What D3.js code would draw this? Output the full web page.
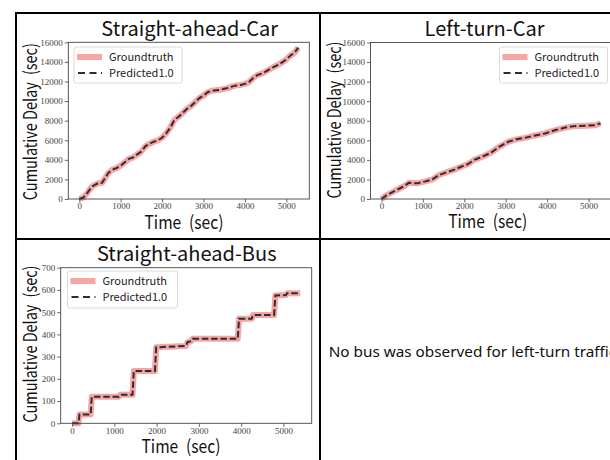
<!DOCTYPE html>
<html>
<head>
<meta charset="utf-8">
<script src="https://cdn.jsdelivr.net/npm/d3@7"></script>
<style>
  html, body { margin: 0; padding: 0; background: #fff; }
  svg { display: block; }
</style>
</head>
<body>
<svg id="fig" width="610" height="460"></svg>
<script>
// ---- data ----
const timeTicks = [0, 1000, 2000, 3000, 4000, 5000];
const carDelayTicks = [0, 2000, 4000, 6000, 8000, 10000, 12000, 14000, 16000];
const busDelayTicks = [0, 100, 200, 300, 400, 500, 600, 700];

const seriesNames = ["Groundtruth", "Predicted1.0"];
const panelTitles = ["Straight-ahead-Car", "Left-turn-Car", "Straight-ahead-Bus"];
const noBusNote = "No bus was observed for left-turn traffic";
const xAxisLabel = "Time\u2002(sec)";
const yAxisLabel = "Cumulative Delay\u2002(sec)";

// Straight-ahead cars: cumulative delay (sec) against time (sec)
const straightCarTime = [0, 100, 200, 300, 380, 450, 550, 620, 700, 800, 900, 1000, 1100, 1200, 1300, 1400, 1500,
  1600, 1700, 1800, 1900, 2000, 2100, 2200, 2300, 2400, 2500, 2600, 2700, 2800, 2900, 3000, 3100, 3200, 3300,
  3400, 3500, 3600, 3700, 3800, 3900, 4000, 4100, 4200, 4300, 4400, 4500, 4600, 4700, 4800, 4900, 5000, 5100,
  5200, 5290];
const straightCarDelay = [0, 150, 650, 1250, 1450, 1600, 1650, 2100, 2650, 3000, 3150, 3400, 3750, 4100, 4250,
  4550, 4850, 5400, 5650, 5850, 6000, 6250, 6700, 7300, 8100, 8400, 8800, 9200, 9500, 9900, 10300, 10550, 10900,
  11050, 11100, 11150, 11250, 11350, 11500, 11600, 11650, 11750, 11950, 12350, 12650, 12800, 13000, 13250, 13500,
  13700, 13950, 14250, 14650, 14950, 15450];

// Left-turn cars
const leftCarTime = [0, 130, 290, 450, 560, 660, 860, 1060, 1230, 1390, 1550, 1760, 1920, 2080, 2240, 2450, 2650,
  2850, 3060, 3260, 3460, 3710, 3950, 4200, 4440, 4640, 4930, 5170, 5290];
const leftCarDelay = [0, 400, 750, 1100, 1350, 1650, 1600, 1800, 2000, 2450, 2700, 3000, 3300, 3550, 4000, 4350,
  4750, 5350, 5850, 6100, 6250, 6500, 6700, 7050, 7300, 7450, 7500, 7550, 7750];

// Straight-ahead buses
const straightBusTime = [0, 150, 175, 440, 465, 1110, 1140, 1430, 1460, 1960, 1990, 2700, 2730, 2820, 2850, 3920,
  3950, 4250, 4280, 4780, 4810, 5060, 5090, 5400];
const straightBusDelay = [0, 0, 40, 40, 120, 120, 128, 128, 235, 235, 342, 348, 365, 370, 380, 380, 470, 470, 487,
  487, 575, 577, 585, 585];

// ---- layout ----
const panels = [
  { title: panelTitles[0], time: straightCarTime, delay: straightCarDelay, yTicks: carDelayTicks,
    plot: { l: 68.3, r: 309.3, t: 42.3, b: 199 },
    titlePos: [189.7, 36], xLabelPos: [184, 228.5], yLabelPos: [36.5, 121.7],
    legend: { x: 74, y: 47, w: 108, h: 36 } },
  { title: panelTitles[1], time: leftCarTime, delay: leftCarDelay, yTicks: carDelayTicks,
    plot: { l: 370.5, r: 611.5, t: 42.5, b: 199 },
    titlePos: [484.5, 36], xLabelPos: [487.7, 228], yLabelPos: [340.5, 120],
    legend: { x: 499.5, y: 47, w: 108, h: 36 } },
  { title: panelTitles[2], time: straightBusTime, delay: straightBusDelay, yTicks: busDelayTicks,
    plot: { l: 60.7, r: 311.7, t: 267.7, b: 423.3 },
    titlePos: [186.7, 261], xLabelPos: [181, 452.5], yLabelPos: [36.5, 344],
    legend: { x: 67.5, y: 271, w: 110, h: 37 } }
];

const SANS = "'Noto Sans CJK KR', 'Noto Sans', sans-serif";
const TICK_FONT = "'Liberation Serif', 'DejaVu Serif', serif";
const GT_COLOR = "#f5a5a5";
const PRED_COLOR = "#2e2e2e";

const svg = d3.select("#fig");

function drawPanel(p) {
  const g = svg.append("g");
  const [t0, t1] = d3.extent(p.time);
  const pad = 0.05 * (t1 - t0);
  const x = d3.scaleLinear().domain([t0 - pad, t1 + pad]).range([p.plot.l, p.plot.r]);
  const y = d3.scaleLinear().domain([0, d3.max(p.yTicks)]).range([p.plot.b, p.plot.t]);

  g.append("rect")
    .attr("x", p.plot.l).attr("y", p.plot.t)
    .attr("width", p.plot.r - p.plot.l).attr("height", p.plot.b - p.plot.t)
    .attr("fill", "#fff");

  const pts = p.time.map((t, i) => [t, p.delay[i]]);
  const line = d3.line().x(d => x(d[0])).y(d => y(d[1]));

  g.append("path").datum(pts).attr("d", line)
    .attr("fill", "none").attr("stroke", GT_COLOR).attr("stroke-width", 6)
    .attr("stroke-linejoin", "round").attr("stroke-linecap", "butt");
  g.append("path").datum(pts).attr("d", line)
    .attr("fill", "none").attr("stroke", PRED_COLOR).attr("stroke-width", 2)
    .attr("stroke-dasharray", "6.5,2.8");

  // axes
  const xAxis = d3.axisBottom(x).tickValues(timeTicks).tickSize(3.5).tickPadding(0.5).tickFormat(d3.format("d"));
  const yAxis = d3.axisLeft(y).tickValues(p.yTicks).tickSize(3.5).tickPadding(2).tickFormat(d3.format("d"));
  const gx = g.append("g").attr("transform", `translate(0,${p.plot.b})`).call(xAxis);
  const gy = g.append("g").attr("transform", `translate(${p.plot.l},0)`).call(yAxis);
  [gx, gy].forEach(a => {
    a.select(".domain").remove();
    a.selectAll(".tick line").attr("stroke", "#444").attr("stroke-width", 0.8);
    a.selectAll(".tick text").attr("fill", "#444").style("font-family", TICK_FONT).style("font-size", "9px");
  });

  // frame
  g.append("rect")
    .attr("x", p.plot.l).attr("y", p.plot.t)
    .attr("width", p.plot.r - p.plot.l).attr("height", p.plot.b - p.plot.t)
    .attr("fill", "none").attr("stroke", "#444").attr("stroke-width", 0.9);

  // title and axis labels
  g.append("text").attr("x", p.titlePos[0]).attr("y", p.titlePos[1])
    .attr("text-anchor", "middle").style("font-family", SANS).style("font-size", "20px")
    .attr("fill", "#111").text(p.title);
  g.append("text").attr("x", p.xLabelPos[0]).attr("y", p.xLabelPos[1])
    .attr("text-anchor", "middle").style("font-family", SANS).style("font-size", "18px")
    .attr("textLength", 79).attr("lengthAdjust", "spacingAndGlyphs")
    .attr("fill", "#111").text(xAxisLabel);
  g.append("text")
    .attr("transform", `translate(${p.yLabelPos[0]},${p.yLabelPos[1]}) rotate(-90)`)
    .attr("text-anchor", "middle").style("font-family", SANS).style("font-size", "18px")
    .attr("textLength", 157).attr("lengthAdjust", "spacingAndGlyphs")
    .attr("fill", "#111").text(yAxisLabel);

  // legend
  const L = p.legend;
  const lg = g.append("g");
  lg.append("rect").attr("x", L.x).attr("y", L.y).attr("width", L.w).attr("height", L.h)
    .attr("rx", 2).attr("fill", "#fff").attr("fill-opacity", 0.85)
    .attr("stroke", "#d0d0d0").attr("stroke-width", 0.8);
  const rowY = [L.y + 10, L.y + 26];
  lg.append("line").attr("x1", L.x + 3).attr("x2", L.x + 28).attr("y1", rowY[0]).attr("y2", rowY[0])
    .attr("stroke", GT_COLOR).attr("stroke-width", 6);
  lg.append("line").attr("x1", L.x + 3).attr("x2", L.x + 28).attr("y1", rowY[1]).attr("y2", rowY[1])
    .attr("stroke", PRED_COLOR).attr("stroke-width", 2).attr("stroke-dasharray", "7,4.5")
    .attr("stroke-dashoffset", -1);
  seriesNames.forEach((name, i) => {
    lg.append("text").attr("x", L.x + 35).attr("y", rowY[i] + 4)
      .style("font-family", SANS).style("font-size", "11px").attr("fill", "#222").text(name);
  });
}

panels.forEach(drawPanel);

// note in the empty cell
svg.append("text").attr("x", 328.7).attr("y", 356.7)
  .style("font-family", "'Noto Sans', sans-serif").style("font-size", "15.3px")
  .attr("fill", "#111").text(noBusNote);

// table grid lines
const grid = svg.append("g").attr("fill", "#000");
grid.append("rect").attr("x", 15).attr("y", 12).attr("width", 595).attr("height", 2);
grid.append("rect").attr("x", 15).attr("y", 12).attr("width", 2).attr("height", 448);
grid.append("rect").attr("x", 319).attr("y", 12).attr("width", 2).attr("height", 448);
grid.append("rect").attr("x", 15).attr("y", 238).attr("width", 595).attr("height", 2);
</script>
</body>
</html>
